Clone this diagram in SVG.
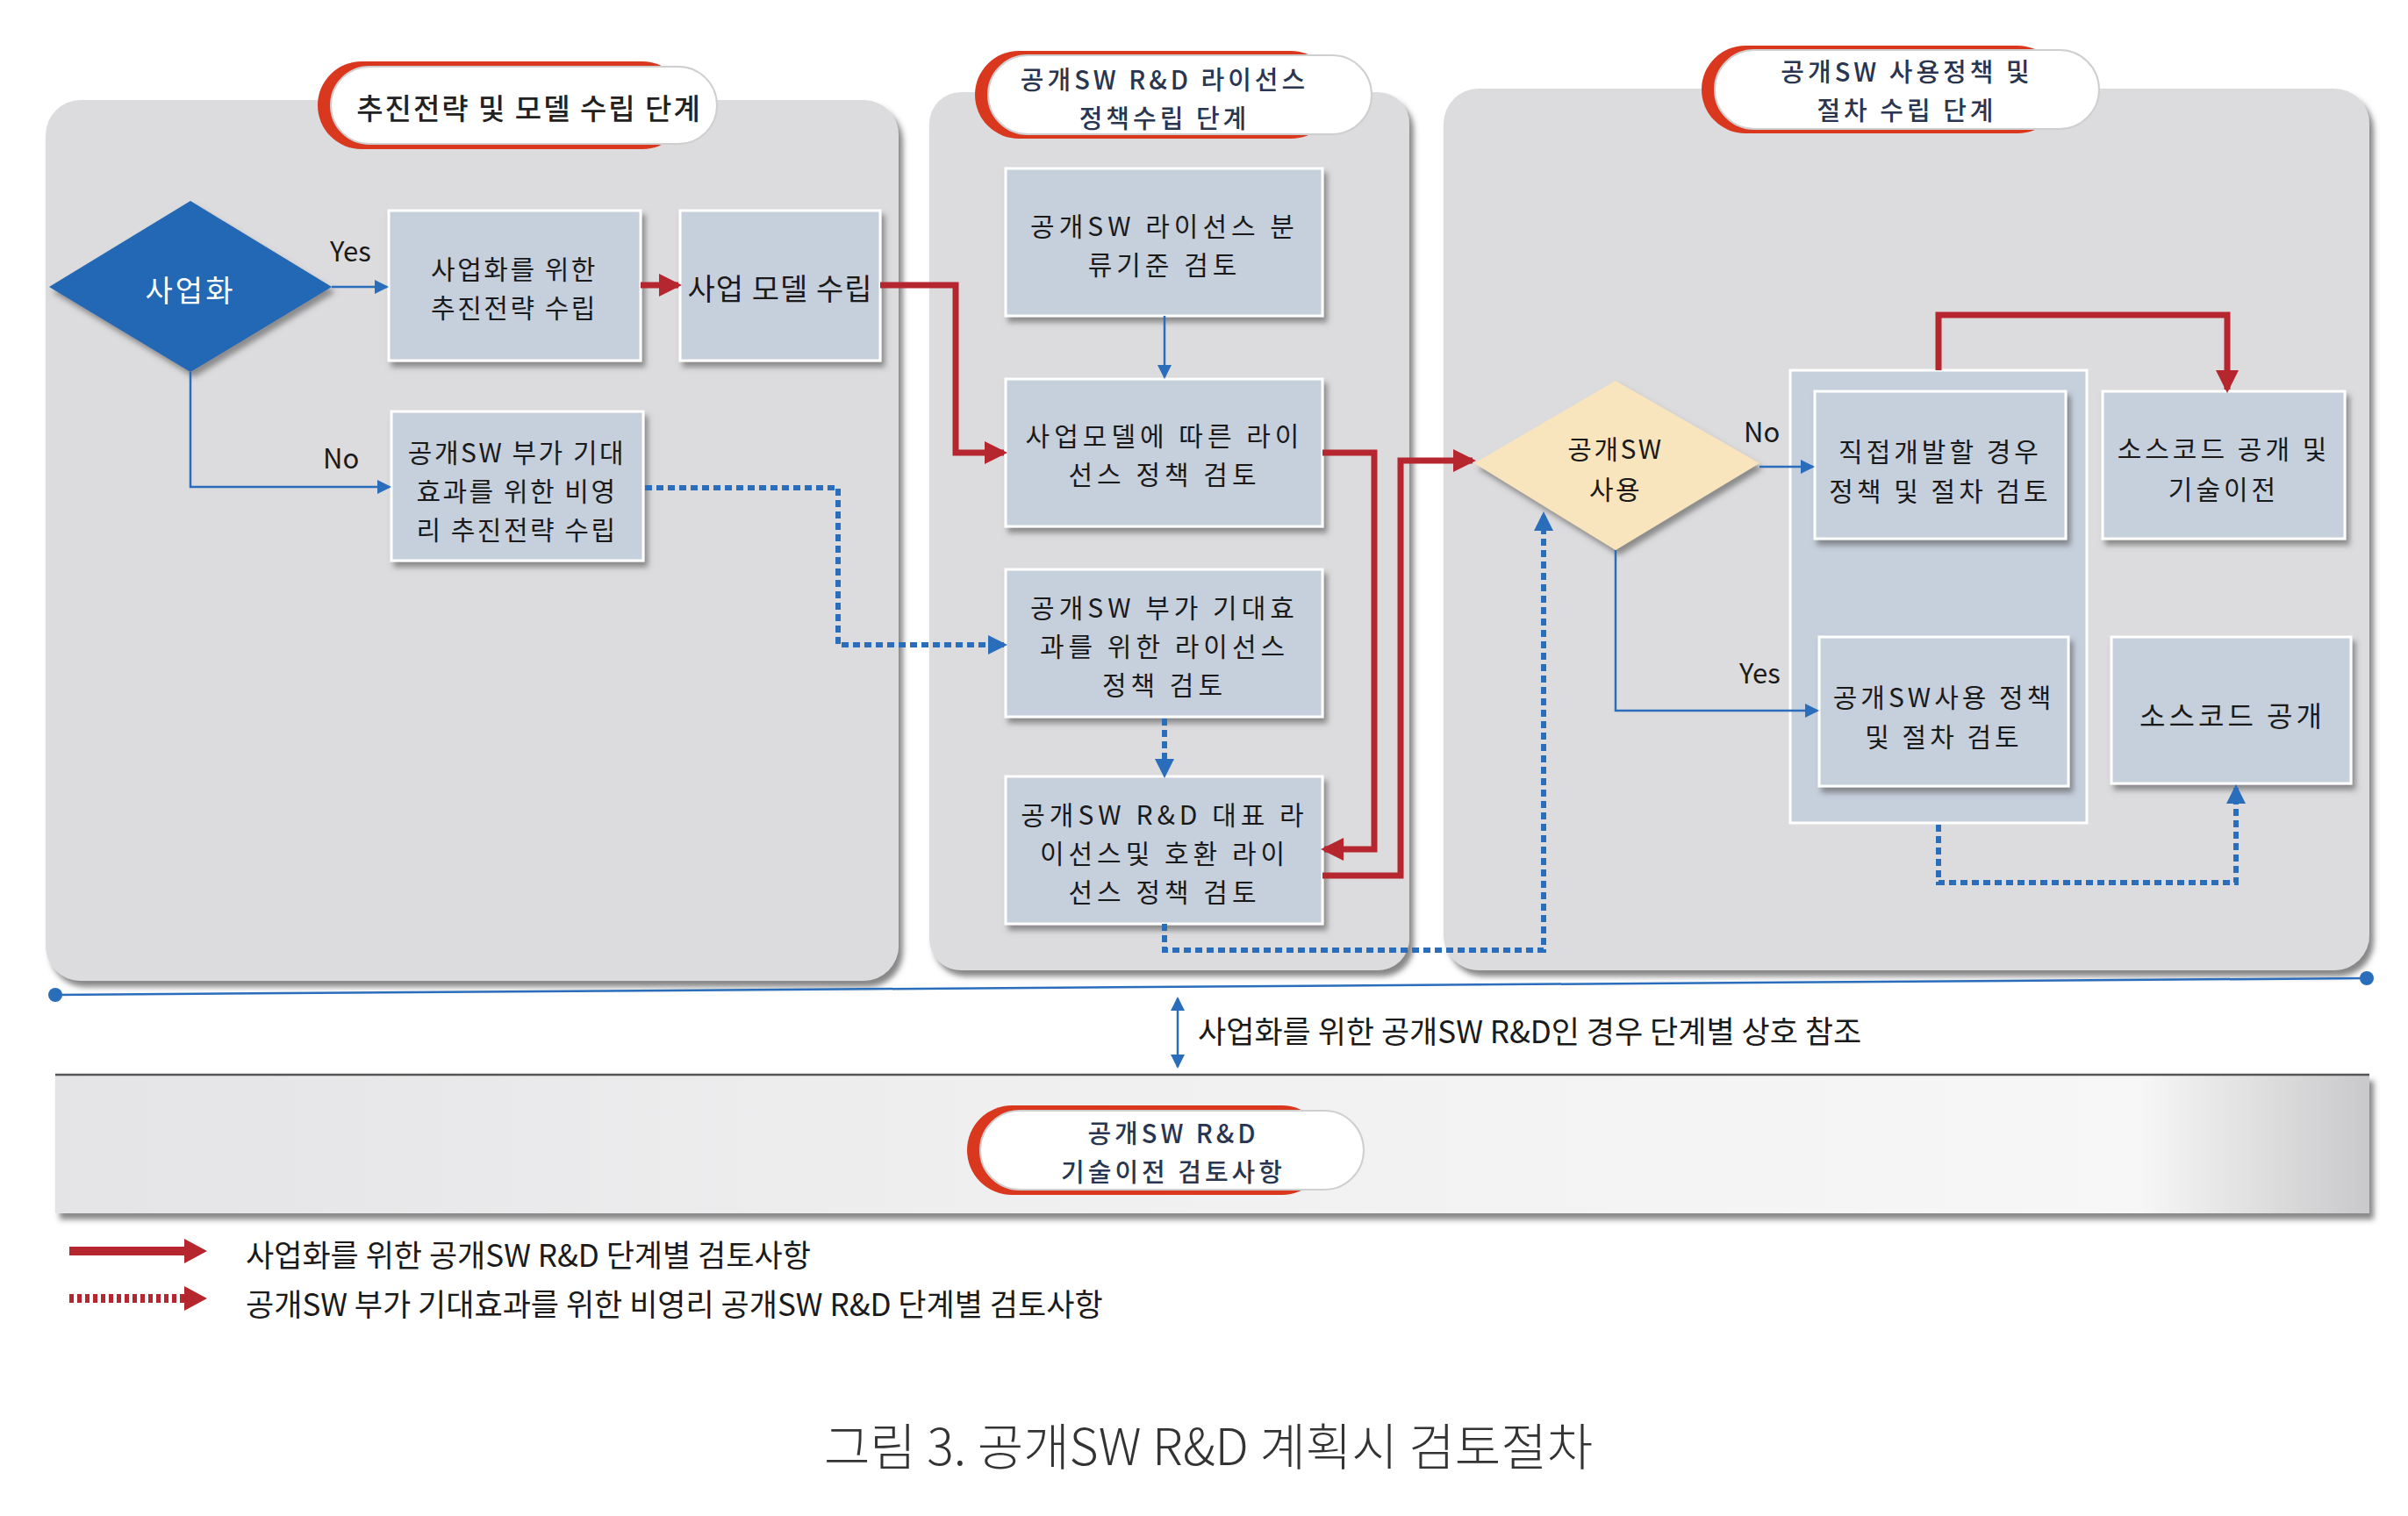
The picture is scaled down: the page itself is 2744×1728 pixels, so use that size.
<svg xmlns="http://www.w3.org/2000/svg" width="2744" height="1728" viewBox="0 0 2744 1728">
<defs>
<style>
text{font-family:"Noto Sans CJK KR","Noto Sans",sans-serif;fill:#1a1a1a;dominant-baseline:central;text-anchor:middle}
.bx{font-size:30px;letter-spacing:2.5px}
.bx1{font-size:34px;letter-spacing:1px}
.bx3{font-size:30px;letter-spacing:4px}
.wide{font-size:30px;letter-spacing:5px}
.ttl{font-size:33px;font-weight:500;fill:#222;letter-spacing:2px}
.ttl2{font-size:29px;font-weight:500;fill:#2a3550;letter-spacing:4px}
.lbl{font-size:35px;text-anchor:start}
.yn{font-size:31px;text-anchor:start}
.panel{fill:#dcdbdd}
.box{fill:#c6cfdc;stroke:#ffffff;stroke-width:3}
.blue{stroke:#2a6ebb;stroke-width:2.5;fill:none}
.bdot{stroke:#2a6ebb;stroke-width:6;fill:none;stroke-dasharray:8 5}
.red{stroke:#b5262e;stroke-width:7;fill:none}
</style>
<filter id="sh" x="-10%" y="-10%" width="130%" height="130%">
<feDropShadow dx="4" dy="6" stdDeviation="3" flood-color="#555" flood-opacity="0.6"/>
</filter>
<filter id="psh" x="-5%" y="-5%" width="115%" height="115%">
<feDropShadow dx="5" dy="7" stdDeviation="3" flood-color="#444" flood-opacity="0.65"/>
</filter>
<marker id="ab" markerUnits="userSpaceOnUse" markerWidth="16" markerHeight="16" refX="14" refY="8" orient="auto-start-reverse">
<path d="M0,0 L16,8 L0,16 Z" fill="#2a6ebb"/>
</marker>
<marker id="abd" markerUnits="userSpaceOnUse" markerWidth="22" markerHeight="22" refX="18" refY="11" orient="auto">
<path d="M0,0 L22,11 L0,22 Z" fill="#2a6ebb"/>
</marker>
<marker id="ar" markerUnits="userSpaceOnUse" markerWidth="26" markerHeight="26" refX="22" refY="13" orient="auto">
<path d="M0,0 L26,13 L0,26 Z" fill="#b5262e"/>
</marker>
<linearGradient id="band" x1="0" x2="1" y1="0" y2="0">
<stop offset="0" stop-color="#e4e4e6"/>
<stop offset="0.4" stop-color="#efeff0"/>
<stop offset="0.9" stop-color="#f7f7f7"/>
<stop offset="1" stop-color="#c9c9cb"/>
</linearGradient>
</defs>
<rect width="2744" height="1728" fill="#ffffff"/>

<!-- Panels -->
<g id="panel1"><rect class="panel" x="52" y="114" width="972" height="1004" rx="40" filter="url(#psh)"/></g>
<g id="panel2"><rect class="panel" x="1059" y="105" width="547" height="1001" rx="36" filter="url(#psh)"/></g>
<g id="panel3"><rect class="panel" x="1645" y="101" width="1055" height="1005" rx="40" filter="url(#psh)"/></g>

<!-- Title pills -->
<g id="title1">
<rect x="362" y="70" width="420" height="100" rx="50" fill="#d9381e"/>
<rect x="377" y="76" width="440" height="88" rx="44" fill="#ffffff" stroke="#cfcfcf" stroke-width="2"/>
<text class="ttl" x="603" y="122">추진전략 및 모델 수립 단계</text>
</g>
<g id="title2">
<rect x="1111" y="58" width="410" height="100" rx="50" fill="#d9381e"/>
<rect x="1126" y="63" width="437" height="90" rx="45" fill="#ffffff" stroke="#cfcfcf" stroke-width="2"/>
<text class="ttl2" x="1327" y="89">공개SW R&amp;D 라이선스</text>
<text class="ttl2" x="1327" y="133">정책수립 단계</text>
</g>
<g id="title3">
<rect x="1939" y="52" width="410" height="100" rx="50" fill="#d9381e"/>
<rect x="1954" y="57" width="438" height="90" rx="45" fill="#ffffff" stroke="#cfcfcf" stroke-width="2"/>
<text class="ttl2" x="2173" y="80">공개SW 사용정책 및</text>
<text class="ttl2" x="2173" y="124">절차 수립 단계</text>
</g>

<!-- Panel 3 group background -->
<g id="group3"><rect x="2040" y="422" width="338" height="516" fill="#c6cfdc" stroke="#ffffff" stroke-width="3"/></g>

<!-- Nodes -->
<g id="d_biz">
<polygon points="56,327 217,229 378,327 217,424" fill="#2468b4" filter="url(#sh)"/>
<text x="217" y="329" style="fill:#ffffff;font-size:34px;letter-spacing:3px">사업화</text>
</g>
<g id="n_strategy">
<rect class="box" x="443" y="240" width="287" height="171" filter="url(#sh)"/>
<text class="bx" x="586" y="305">사업화를 위한</text>
<text class="bx" x="586" y="349">추진전략 수립</text>
</g>
<g id="n_model">
<rect class="box" x="775" y="240" width="228" height="171" filter="url(#sh)"/>
<text class="bx1" x="889" y="327">사업 모델 수립</text>
</g>
<g id="n_nonprofit">
<rect class="box" x="446" y="469" width="287" height="170" filter="url(#sh)"/>
<text class="bx" x="589" y="514">공개SW 부가 기대</text>
<text class="bx" x="589" y="558">효과를 위한 비영</text>
<text class="bx" x="589" y="602">리 추진전략 수립</text>
</g>

<g id="n_classify">
<rect class="box" x="1146" y="192" width="361" height="168" filter="url(#sh)"/>
<text class="wide" x="1327" y="256">공개SW 라이선스 분</text>
<text class="wide" x="1327" y="300">류기준 검토</text>
</g>
<g id="n_bizpolicy">
<rect class="box" x="1146" y="432" width="361" height="168" filter="url(#sh)"/>
<text class="wide" x="1327" y="495">사업모델에 따른 라이</text>
<text class="wide" x="1327" y="539">선스 정책 검토</text>
</g>
<g id="n_addpolicy">
<rect class="box" x="1146" y="649" width="361" height="168" filter="url(#sh)"/>
<text class="wide" x="1327" y="691">공개SW 부가 기대효</text>
<text class="wide" x="1327" y="735">과를 위한 라이선스</text>
<text class="wide" x="1327" y="779">정책 검토</text>
</g>
<g id="n_repr">
<rect class="box" x="1146" y="885" width="361" height="168" filter="url(#sh)"/>
<text class="wide" x="1327" y="927">공개SW R&amp;D 대표 라</text>
<text class="wide" x="1327" y="971">이선스및 호환 라이</text>
<text class="wide" x="1327" y="1015">선스 정책 검토</text>
</g>

<g id="d_use">
<polygon points="1680,528 1841,434 2005,528 1841,627" fill="#f8e4bd" filter="url(#sh)"/>
<text class="bx" x="1841" y="510">공개SW</text>
<text class="bx" x="1841" y="556">사용</text>
</g>
<g id="n_direct">
<rect class="box" x="2068" y="446" width="286" height="168" filter="url(#sh)"/>
<text class="bx3" x="2211" y="513">직접개발할 경우</text>
<text class="bx3" x="2211" y="558">정책 및 절차 검토</text>
</g>
<g id="n_usepolicy">
<rect class="box" x="2073" y="726" width="284" height="170" filter="url(#sh)"/>
<text class="bx3" x="2215" y="793">공개SW사용 정책</text>
<text class="bx3" x="2215" y="838">및 절차 검토</text>
</g>
<g id="n_transfer">
<rect class="box" x="2396" y="446" width="276" height="168" filter="url(#sh)"/>
<text class="bx3" x="2534" y="510">소스코드 공개 및</text>
<text class="bx3" x="2534" y="556">기술이전</text>
</g>
<g id="n_open">
<rect class="box" x="2406" y="726" width="273" height="167" filter="url(#sh)"/>
<text class="bx3" x="2544" y="814" style="font-size:32px">소스코드 공개</text>
</g>

<!-- Connectors -->
<g id="connectors">
<path class="blue" d="M378,327 H441" marker-end="url(#ab)"/>
<path class="blue" d="M217,424 V555 H444" marker-end="url(#ab)"/>
<path class="red" d="M730,325 H773" marker-end="url(#ar)"/>
<path class="red" d="M1003,325 H1089 V516 H1144" marker-end="url(#ar)"/>
<path class="bdot" d="M735,556 H955 V735 H1144" marker-end="url(#abd)"/>
<path class="blue" d="M1327,360 V430" marker-end="url(#ab)"/>
<path class="bdot" d="M1327,819 V883" marker-end="url(#abd)"/>
<path class="red" d="M1507,516 H1566 V968 H1509" marker-end="url(#ar)"/>
<path class="red" d="M1507,998 H1596 V525 H1678" marker-end="url(#ar)"/>
<path class="bdot" d="M1327,1053 V1083 H1759 V587" marker-end="url(#abd)"/>
<path class="blue" d="M2005,532 H2066" marker-end="url(#ab)"/>
<path class="blue" d="M1841,627 V810 H2071" marker-end="url(#ab)"/>
<path class="red" d="M2209,422 V359 H2538 V444" marker-end="url(#ar)"/>
<path class="bdot" d="M2209,940 V1006 H2548 V898" marker-end="url(#abd)"/>
<path class="blue" d="M1342,1138 V1216" marker-start="url(#ab)" marker-end="url(#ab)"/>
</g>

<!-- Branch labels -->
<text class="yn" x="376" y="284">Yes</text>
<text class="yn" x="368" y="520">No</text>
<text class="yn" x="1987" y="490">No</text>
<text class="yn" x="1982" y="765">Yes</text>

<!-- Timeline -->
<g id="timeline">
<line x1="63" y1="1134" x2="2697" y2="1115" stroke="#2a6ebb" stroke-width="2.5"/>
<circle cx="63" cy="1134" r="8" fill="#2a6ebb"/>
<circle cx="2697" cy="1115" r="8" fill="#2a6ebb"/>
<text class="lbl" x="1365" y="1173">사업화를 위한 공개SW R&amp;D인 경우 단계별 상호 참조</text>
</g>

<!-- Bottom band -->
<g id="band">
<rect x="63" y="1225" width="2637" height="158" fill="url(#band)" filter="url(#psh)"/>
<line x1="63" y1="1225" x2="2700" y2="1225" stroke="#555" stroke-width="2.5"/>
<rect x="1102" y="1260" width="410" height="102" rx="51" fill="#d9381e"/>
<rect x="1117" y="1266" width="437" height="90" rx="45" fill="#ffffff" stroke="#cfcfcf" stroke-width="2"/>
<text class="ttl2" x="1337" y="1290">공개SW R&amp;D</text>
<text class="ttl2" x="1337" y="1334">기술이전 검토사항</text>
</g>

<!-- Legend -->
<g id="legend">
<path d="M79,1426 H214" stroke="#b5262e" stroke-width="10" fill="none"/>
<path d="M210,1412 L236,1426 L210,1440 Z" fill="#b5262e"/>
<text class="lbl" x="280" y="1428">사업화를 위한 공개SW R&amp;D 단계별 검토사항</text>
<path d="M79,1480 H214" stroke="#b5262e" stroke-width="10" fill="none" stroke-dasharray="5 4"/>
<path d="M210,1466 L236,1480 L210,1494 Z" fill="#b5262e"/>
<text class="lbl" x="280" y="1484">공개SW 부가 기대효과를 위한 비영리 공개SW R&amp;D 단계별 검토사항</text>
</g>

<text x="1377" y="1645" style="font-size:57px;fill:#333;font-weight:300">그림 3. 공개SW R&amp;D 계획시 검토절차</text>
</svg>
